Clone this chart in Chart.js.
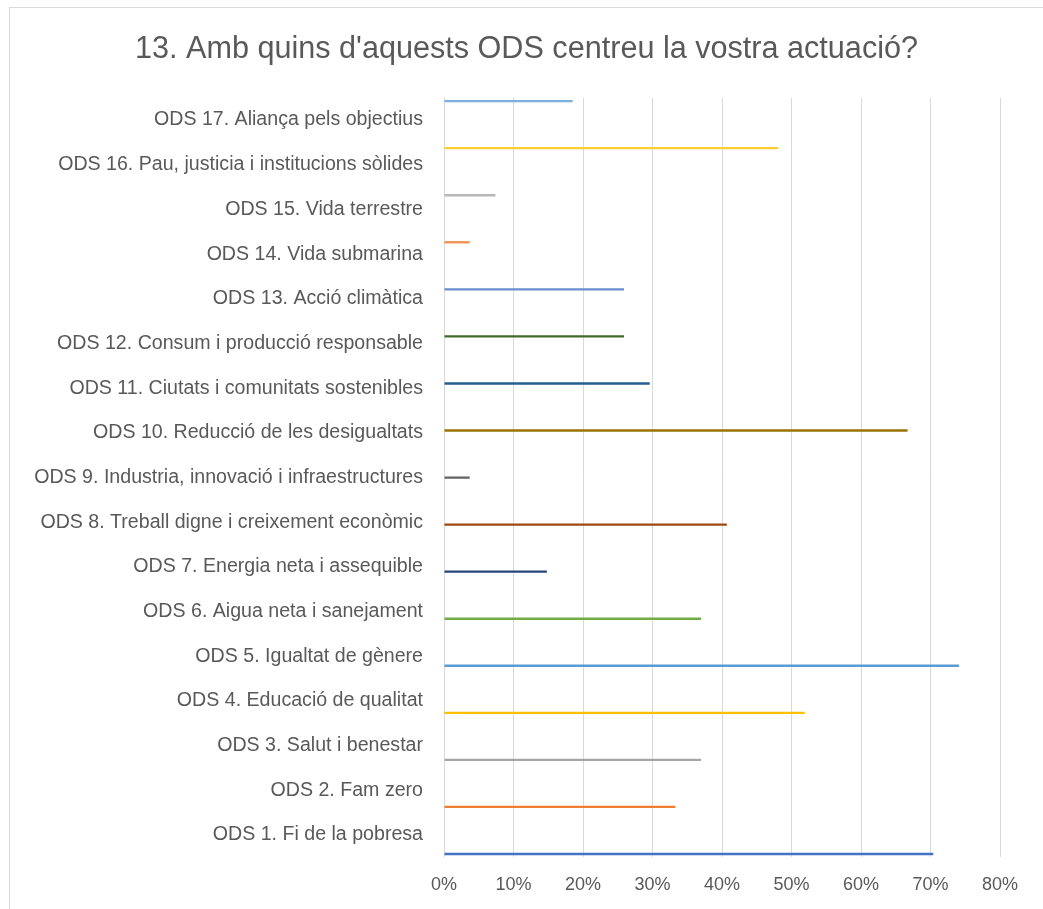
<!DOCTYPE html>
<html lang="ca">
<head>
    <meta charset="UTF-8">
    <title>13. Amb quins d'aquests ODS centreu la vostra actuació?</title>
    <script src="https://cdn.jsdelivr.net/npm/chart.js"></script>
    <style>
        body {
            margin: 0;
            background: #ffffff;
        }

        /* chart frame, only top and left edges are visible */
        .frame {
            position: absolute;
            left: 9px;
            top: 7px;
            width: 1040px;
            height: 910px;
            border: 1px solid #d9d9d9;
        }
    </style>
</head>
<body>
    <div class="frame">
        <canvas id="odsChart" width="1033" height="901"></canvas>
    </div>

    <script>
        // categories, top to bottom as shown
        const categories = [
            'ODS 17. Aliança pels objectius',
            'ODS 16. Pau, justicia i institucions sòlides',
            'ODS 15. Vida terrestre',
            'ODS 14. Vida submarina',
            'ODS 13. Acció climàtica',
            'ODS 12. Consum i producció responsable',
            'ODS 11. Ciutats i comunitats sostenibles',
            'ODS 10. Reducció de les desigualtats',
            'ODS 9. Industria, innovació i infraestructures',
            'ODS 8. Treball digne i creixement econòmic',
            'ODS 7. Energia neta i assequible',
            'ODS 6. Aigua neta i sanejament',
            'ODS 5. Igualtat de gènere',
            'ODS 4. Educació de qualitat',
            'ODS 3. Salut i benestar',
            'ODS 2. Fam zero',
            'ODS 1. Fi de la pobresa'
        ];

        // percentage of answers for each ODS (same order)
        const percents = [18.5, 48.1, 7.4, 3.7, 25.9, 25.9, 29.6, 66.7, 3.7, 40.7, 14.8, 37.0, 74.1, 51.9, 37.0, 33.3, 70.4];

        // one colour per series (Office palette)
        const seriesColors = [
            '#7CAFDD', '#FFCD33', '#B7B7B7', '#F1975A', '#698ED0', '#43682B',
            '#255E91', '#997300', '#636363', '#9E480E', '#264478', '#70AD47',
            '#5B9BD5', '#FFC000', '#A5A5A5', '#ED7D31', '#4472C4'
        ];

        const xTicks = [0, 10, 20, 30, 40, 50, 60, 70, 80];

        const fontFamily = "'Liberation Sans', Arial, sans-serif";

        // each ODS is its own series, with a value only in its own category
        const datasets = categories.map(function (name, i) {
            return {
                label: name,
                data: categories.map(function (c, j) { return j === i ? percents[i] : null; }),
                backgroundColor: seriesColors[i],
                borderWidth: 0,
                barPercentage: 1,
                categoryPercentage: 0.9
            };
        });

        const ctx = document.getElementById('odsChart').getContext('2d');

        new Chart(ctx, {
            type: 'bar',
            data: {
                labels: categories,
                datasets: datasets
            },
            options: {
                indexAxis: 'y',
                responsive: false,
                animation: false,
                layout: {
                    padding: { left: 0, right: 0, top: 0, bottom: -4 }
                },
                plugins: {
                    legend: { display: false },
                    tooltip: { enabled: false },
                    title: {
                        display: true,
                        text: "13. Amb quins d'aquests ODS centreu la vostra actuació?",
                        color: '#595959',
                        font: { family: fontFamily, size: 30.6, weight: 'normal' },
                        padding: { top: 23, bottom: 30 }
                    }
                },
                scales: {
                    x: {
                        min: 0,
                        max: 80,
                        afterBuildTicks: function (scale) {
                            scale.ticks = xTicks.map(function (v) { return { value: v }; });
                        },
                        ticks: {
                            color: '#595959',
                            font: { family: fontFamily, size: 18 },
                            padding: 17,
                            callback: function (v) { return v + '%'; }
                        },
                        grid: {
                            color: '#d9d9d9',
                            lineWidth: 1,
                            drawTicks: false
                        },
                        border: { display: false }
                    },
                    y: {
                        afterFit: function (scale) {
                            scale.width = 434;
                        },
                        ticks: {
                            color: '#595959',
                            font: { family: fontFamily, size: 19.6 },
                            padding: 21,
                            autoSkip: false
                        },
                        grid: { display: false, drawTicks: false },
                        border: { display: false }
                    },
                    // empty axis on the right, only reserves space after the 80% line
                    spacer: {
                        type: 'category',
                        axis: 'y',
                        position: 'right',
                        afterFit: function (scale) {
                            scale.width = 43;
                        },
                        ticks: { display: false },
                        grid: { display: false, drawTicks: false },
                        border: { display: false }
                    }
                }
            }
        });
    </script>
</body>
</html>
